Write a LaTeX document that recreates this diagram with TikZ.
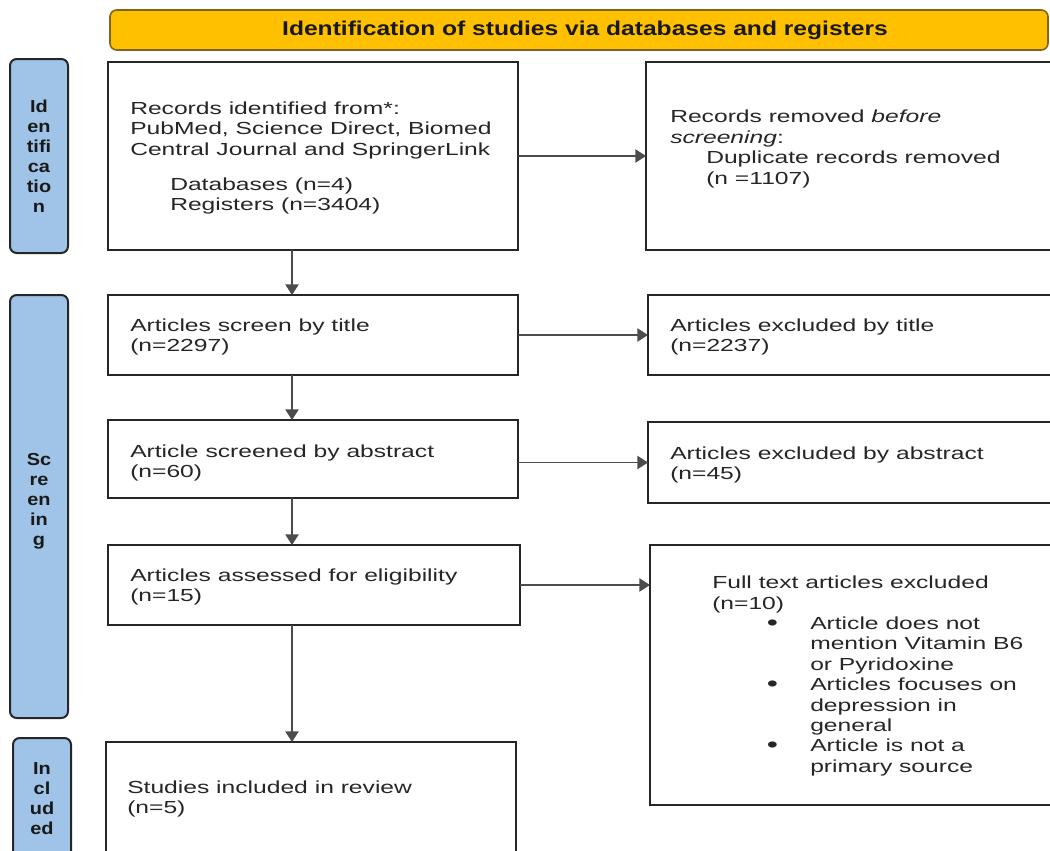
\documentclass[tikz,border=0pt]{standalone}
\usepackage{fontspec}
\setmainfont{Liberation Sans}[FakeStretch=1.41]
\newfontfamily\titlefont{Liberation Sans}[FakeStretch=1.23]
\newfontfamily\sidefont{Liberation Sans}[FakeStretch=1.15]
\usetikzlibrary{arrows.meta}
\definecolor{sideblue}{RGB}{160,196,232}
\definecolor{bargold}{RGB}{255,192,0}
\definecolor{barline}{RGB}{130,100,30}
\newcommand\pbox[7]{\node[#6, minimum width={(#4-#2)*0.75pt}, minimum height={(#5-#3)*0.75pt}] (#1) at ({(#2+#4)/2},{(#3+#5)/2}) {#7};}
\newcommand\bul{\hspace*{41pt}\makebox[32.5pt][l]{\raisebox{-0.5pt}{\fontsize{17pt}{15pt}\selectfont\textbullet}}}
\tikzset{
  x=0.75pt, y=-0.75pt,
  box/.style={draw=black!85, line width=1.5pt, fill=white, inner sep=0pt, outer sep=0pt},
  sidebar/.style={draw=black!85, line width=1.5pt, fill=sideblue, rounded corners=5pt, inner sep=0pt, outer sep=0pt, align=center, font=\sidefont\bfseries\fontsize{13pt}{15pt}\selectfont, text=black!90},
  topbar/.style={draw=barline, line width=1.2pt, fill=bargold, rounded corners=5pt, inner sep=0pt, outer sep=0pt},
  txt/.style={anchor=west, align=left, inner sep=0pt, font=\fontsize{13.1pt}{15.3pt}\selectfont, text=black!85},
  arr/.style={draw=black!70, line width=1pt, -{Triangle[width=10pt,length=8pt]}},
}
\begin{document}
\begin{tikzpicture}
\useasboundingbox (0,0) rectangle (1050,850);

% top bar
\pbox{top}{110}{10}{1048}{50}{topbar}{}
\node[font=\titlefont\bfseries\fontsize{15pt}{18pt}\selectfont, text=black!90, inner sep=0pt] (toptext) at (585,30) {Identification of studies via databases and registers};

% side bars
\pbox{sid}{10}{59}{68}{253}{sidebar}{Id\\en\\tifi\\ca\\tio\\n}
\pbox{sscr}{10}{295}{68}{718}{sidebar}{Sc\\re\\en\\in\\g\\[-4.5pt]}
\pbox{sinc}{13}{738}{71}{860}{sidebar}{In\\cl\\ud\\ed}

% boxes
\pbox{rid}{108}{62}{518}{250}{box}{}
\pbox{rrm}{646}{62}{1060}{250}{box}{}
\pbox{t1}{108}{295}{518}{375}{box}{}
\pbox{e1}{648}{295}{1060}{375}{box}{}
\pbox{t2}{108}{420}{518}{498}{box}{}
\pbox{e2}{648}{422}{1060}{503}{box}{}
\pbox{t3}{108}{545}{520}{625}{box}{}
\pbox{e3}{650}{545}{1060}{805}{box}{}
\pbox{inc}{106}{742}{516}{870}{box}{}

% texts
\node[txt] (rid-t) at (130,158) {Records identified from*:\\PubMed, Science Direct, Biomed\\Central Journal and SpringerLink\\[11pt]\hspace*{30pt}Databases (n=4)\\\hspace*{30pt}Registers (n=3404)};
\node[txt] (rrm-t) at (670,149) {Records removed \textit{before}\\\textit{screening}:\\\hspace*{27pt}Duplicate records removed\\\hspace*{27pt}(n =1107)};
\node[txt] (t1-t) at (130,337) {Articles screen by title\\(n=2297)};
\node[txt] (e1-t) at (670,337) {Articles excluded by title\\(n=2237)};
\node[txt] (t2-t) at (130,463) {Article screened by abstract\\(n=60)};
\node[txt] (e2-t) at (670,465) {Articles excluded by abstract\\(n=45)};
\node[txt] (t3-t) at (130,587) {Articles assessed for eligibility\\(n=15)};
\node[txt] (e3-t) at (712,676) {Full text articles excluded\\(n=10)\\
\bul Article does not\\
\hspace*{73.5pt}mention Vitamin B6\\
\hspace*{73.5pt}or Pyridoxine\\
\bul Articles focuses on\\
\hspace*{73.5pt}depression in\\
\hspace*{73.5pt}general\\
\bul Article is not a\\
\hspace*{73.5pt}primary source};
\node[txt] (inc-t) at (127,799) {Studies included in review\\(n=5)};

% connectors
\coordinate (vx) at (292,0);
\draw[arr] (rid.south -| vx) -- (t1.north -| vx);
\draw[arr] (t1.south -| vx) -- (t2.north -| vx);
\draw[arr] (t2.south -| vx) -- (t3.north -| vx);
\draw[arr] (t3.south -| vx) -- (inc.north -| vx);
\draw[arr] (rid.east) -- (rrm.west |- rid.east);
\draw[arr] (t1.east) -- (e1.west |- t1.east);
\draw[arr] (t2.east |- e2.west) -- (e2.west);
\draw[arr] (t3.east) -- (e3.west |- t3.east);
\end{tikzpicture}
\end{document}
